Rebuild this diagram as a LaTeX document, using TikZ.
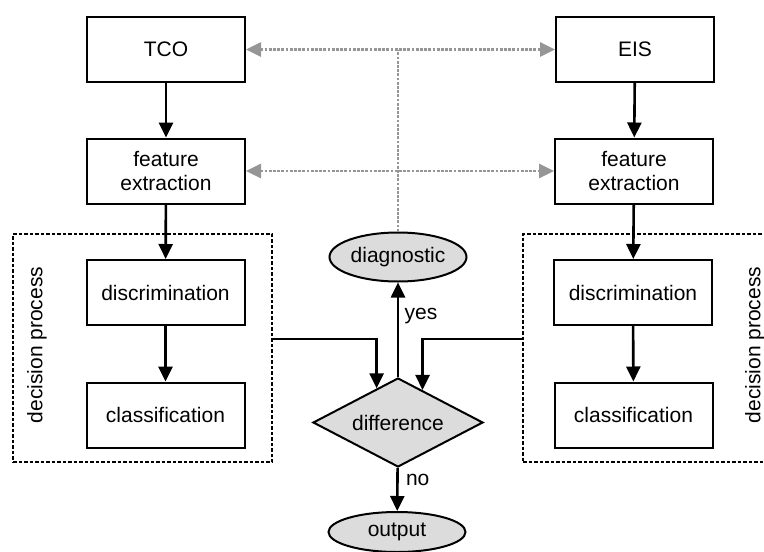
\documentclass[tikz,border=0pt]{standalone}
\usepackage{fontspec}
\setmainfont{Liberation Sans}
\usetikzlibrary{arrows.meta,shapes.geometric}
\definecolor{shade}{RGB}{220,220,220}
\definecolor{link}{RGB}{150,150,150}
\tikzset{
  box/.style={draw,line width=2pt,minimum width=158pt,minimum height=65pt,align=center,inner sep=2pt},
  dbox/.style={draw,line width=2.2pt,dash pattern=on 3.5pt off 2pt,minimum height=228pt},
  term/.style={draw,fill=shade,ellipse,line width=2pt,minimum width=137pt,inner sep=0pt},
  decide/.style={draw,fill=shade,diamond,aspect=1.9,line width=2pt,minimum width=170pt,minimum height=89pt,inner sep=0pt},
  arr/.style={line width=2.6pt,-{Triangle[width=14pt,length=15pt]}},
  gl/.style={draw=link,line width=2.6pt,dash pattern=on 2.8pt off 1.4pt},
  garr/.style={gl,{Triangle[width=14pt,length=15pt]}-{Triangle[width=14pt,length=15pt]},color=link}
}
\begin{document}
\begin{tikzpicture}[x=1pt,y=-1pt,font=\fontsize{21}{24}\selectfont]
\useasboundingbox (0,0) rectangle (764,552);
\node[dbox,minimum width=259pt] (dpl) at (142.5,348) {};
\node[dbox,minimum width=250pt] (dpr) at (648,348) {};
\node[rotate=90] (lbl1) at (37,345) {decision process};
\node[rotate=90] (lbl2) at (755,345) {decision process};
\node[box] (tco) at (166,49.5) {TCO};
\node[box] (eis) at (635,49.5) {EIS};
\node[box] (fe1) at (166,171) {feature\\extraction};
\node[box] (fe2) at (634,171) {feature\\extraction};
\node[box] (dis1) at (165.5,292.5) {discrimination};
\node[box] (dis2) at (633,292.5) {discrimination};
\node[box] (cls1) at (165.5,415) {classification};
\node[box] (cls2) at (633.5,415) {classification};
\node[term,minimum height=49pt] (diag) at (398,257) {diagnostic};
\node[decide] (diff) at (398,422.5) {difference};
\node[term,minimum height=40pt] (out) at (397,532) {output};
\draw[arr] (tco) -- (fe1);
\draw[arr] (fe1) -- (dis1);
\draw[arr] (dis1) -- (cls1);
\draw[arr] (eis) -- (fe2);
\draw[arr] (fe2) -- (dis2);
\draw[arr] (dis2) -- (cls2);
\draw[arr] (dpl.east |- 0,339) -| (diff.122);
\draw[arr] (dpr.west |- 0,339) -| (diff.53);
\draw[arr] (diff) -- node[right,xshift=2pt,yshift=14pt] {yes} (diag);
\draw[arr] (diff) -- node[right,xshift=4pt,yshift=9pt] {no} (out);
\draw[garr] (tco) -- (eis);
\draw[garr] (fe1) -- (fe2);
\draw[gl] (diag) -- (diag |- tco.east);
\end{tikzpicture}
\end{document}
